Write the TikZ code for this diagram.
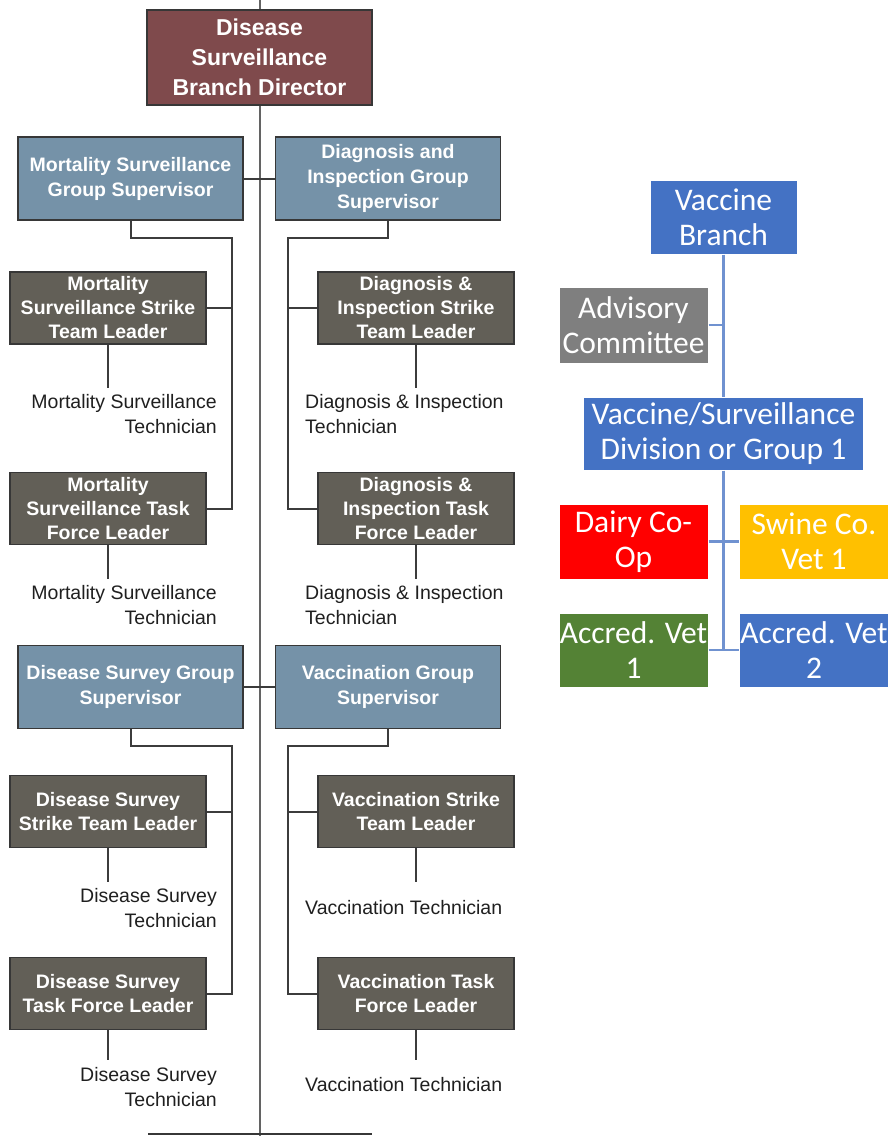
\documentclass[tikz,border=0pt]{standalone}
\usepackage{fontspec}
\setmainfont{Liberation Sans}
\newfontfamily\calfont{Carlito}
\definecolor{dirc}{RGB}{127,74,76}
\definecolor{gsc}{RGB}{117,146,168}
\definecolor{dkc}{RGB}{98,95,87}
\definecolor{bordc}{RGB}{55,55,55}
\definecolor{linec}{RGB}{60,60,60}
\definecolor{vblue}{RGB}{68,114,196}
\definecolor{vgray}{RGB}{127,127,127}
\definecolor{vred}{RGB}{255,0,0}
\definecolor{vyel}{RGB}{255,192,0}
\definecolor{vgreen}{RGB}{84,130,53}
\definecolor{vline}{RGB}{112,146,208}
\tikzset{
  dirbox/.style={fill=dirc, draw=bordc, line width=1.5pt, text=white, inner sep=0pt,
    minimum width=225pt, minimum height=95pt, align=center,
    font=\bfseries\fontsize{23}{30}\selectfont},
  gsbox/.style={fill=gsc, draw=bordc, line width=1.5pt, text=white, inner sep=0pt,
    minimum width=225pt, minimum height=83pt, align=center,
    font=\bfseries\fontsize{19.5}{25}\selectfont},
  dkbox/.style={fill=dkc, draw=bordc, line width=1.5pt, text=white, inner sep=0pt,
    minimum width=196pt, minimum height=72pt, align=center,
    font=\bfseries\fontsize{19.5}{24}\selectfont},
  techl/.style={inner sep=0pt, align=right, anchor=east, text=black!88,
    font=\fontsize{19.5}{25}\selectfont},
  techr/.style={inner sep=0pt, align=left, anchor=west, text=black!88,
    font=\fontsize{19.5}{25}\selectfont},
  conn/.style={draw=linec, line width=2pt},
  vbox/.style={draw=white, line width=1pt, text=white, inner sep=0pt, align=center,
    minimum width=149pt, minimum height=75pt,
    font=\calfont\fontsize{31.5}{35}\selectfont},
  vconn/.style={draw=vline, line width=2.5pt},
}
\begin{document}
\begin{tikzpicture}[x=1pt,y=-1pt]
\useasboundingbox (0,0) rectangle (889,1136);
% main trunk
\coordinate (top) at (260,0);
\coordinate (bot) at (260,1136);
\draw[draw=linec!80, line width=2.5pt] (top) -- (bot);
% cut-off box at bottom
\coordinate (cbl) at (148,1134);
\coordinate (cbr) at (372,1134);
\draw[draw=bordc, line width=2pt] (cbl) -- (cbr);

\node[dirbox] (dir) at (259.5,57.5) {Disease\\Surveillance\\Branch Director};

% group supervisors
\node[gsbox] (mgs) at (130.5,178.5) {Mortality Surveillance\\Group Supervisor};
\node[gsbox] (dgs) at (388,178.5) {Diagnosis and\\Inspection Group\\Supervisor};
\node[gsbox] (sgs) at (130.5,687) {Disease Survey Group\\Supervisor};
\node[gsbox] (vgs) at (388,687) {Vaccination Group\\Supervisor};
\draw[conn] (mgs.east) -- (dgs.west);
\draw[conn] (sgs.east) -- (vgs.west);

% leaders
\node[dkbox] (mst) at (108,308) {Mortality\\Surveillance Strike\\Team Leader};
\node[dkbox] (mtf) at (108,508.5) {Mortality\\Surveillance Task\\Force Leader};
\node[dkbox] (dst) at (416,308) {Diagnosis \&\\Inspection Strike\\Team Leader};
\node[dkbox] (dtf) at (416,508.5) {Diagnosis \&\\Inspection Task\\Force Leader};
\node[dkbox] (sst) at (108,811.5) {Disease Survey\\Strike Team Leader};
\node[dkbox] (stf) at (108,993.5) {Disease Survey\\Task Force Leader};
\node[dkbox] (vst) at (416,811.5) {Vaccination Strike\\Team Leader};
\node[dkbox] (vtf) at (416,993.5) {Vaccination Task\\Force Leader};

% buses
\coordinate (mbus) at (232,238);
\coordinate (dbus) at (288,238);
\coordinate (sbus) at (232,746);
\coordinate (vbus) at (288,746);
\draw[conn] (mgs.south) |- (mbus) |- (mtf.east);
\draw[conn] (mst.east) -- (mst.east -| mbus);
\draw[conn] (dgs.south) |- (dbus) |- (dtf.west);
\draw[conn] (dst.west) -- (dst.west -| dbus);
\draw[conn] (sgs.south) |- (sbus) |- (stf.east);
\draw[conn] (sst.east) -- (sst.east -| sbus);
\draw[conn] (vgs.south) |- (vbus) |- (vtf.west);
\draw[conn] (vst.west) -- (vst.west -| vbus);

% technicians
\node[techl] (mt1) at (217,414.5) {Mortality Surveillance\\Technician};
\node[techl] (mt2) at (217,605.5) {Mortality Surveillance\\Technician};
\node[techr] (dt1) at (305,414.5) {Diagnosis \& Inspection\\Technician};
\node[techr] (dt2) at (305,605.5) {Diagnosis \& Inspection\\Technician};
\node[techl] (st1) at (217,908) {Disease Survey\\Technician};
\node[techl] (st2) at (217,1087) {Disease Survey\\Technician};
\node[techr] (vt1) at (305,908) {Vaccination Technician};
\node[techr] (vt2) at (305,1085) {Vaccination Technician};
\coordinate (mt1e) at (108,388);
\coordinate (mt2e) at (108,579);
\coordinate (dt1e) at (416,388);
\coordinate (dt2e) at (416,579);
\coordinate (st1e) at (108,882);
\coordinate (st2e) at (108,1060);
\coordinate (vt1e) at (416,882);
\coordinate (vt2e) at (416,1060);
\draw[conn] (mst.south) -- (mt1e);
\draw[conn] (mtf.south) -- (mt2e);
\draw[conn] (dst.south) -- (dt1e);
\draw[conn] (dtf.south) -- (dt2e);
\draw[conn] (sst.south) -- (st1e);
\draw[conn] (stf.south) -- (st2e);
\draw[conn] (vst.south) -- (vt1e);
\draw[conn] (vtf.south) -- (vt2e);

% right chart
\node[vbox, fill=vblue, minimum width=147pt, minimum height=74pt] (vb) at (723.5,217) {Vaccine\\Branch};
\node[vbox, fill=vgray, minimum height=76pt] (ac) at (633.5,325) {Advisory\\Committee};
\node[vbox, fill=vblue, minimum width=280pt, minimum height=73pt] (vs) at (723.5,433.5) {Vaccine/Surveillance\\Division or Group 1};
\node[vbox, fill=vred] (dairy) at (633.5,541.5) {Dairy Co-\\Op};
\node[vbox, fill=vyel] (swine) at (814,541.5) {Swine Co.\\Vet 1};
\node[vbox, fill=vgreen, minimum height=74pt] (av1) at (633.5,650) {Accred. Vet\\1};
\node[vbox, fill=vblue, minimum height=74pt] (av2) at (814,650) {Accred. Vet\\2};
\coordinate (vbot) at (723.5,650);
\draw[vconn] (vb.south) -- (vs.north);
\draw[vconn] (ac.east) -- (ac.east -| vb.south);
\draw[vconn] (vs.south) -- (vbot);
\draw[vconn] (dairy.east) -- (swine.west);
\draw[vconn] (av1.east) -- (av2.west);
\end{tikzpicture}
\end{document}
